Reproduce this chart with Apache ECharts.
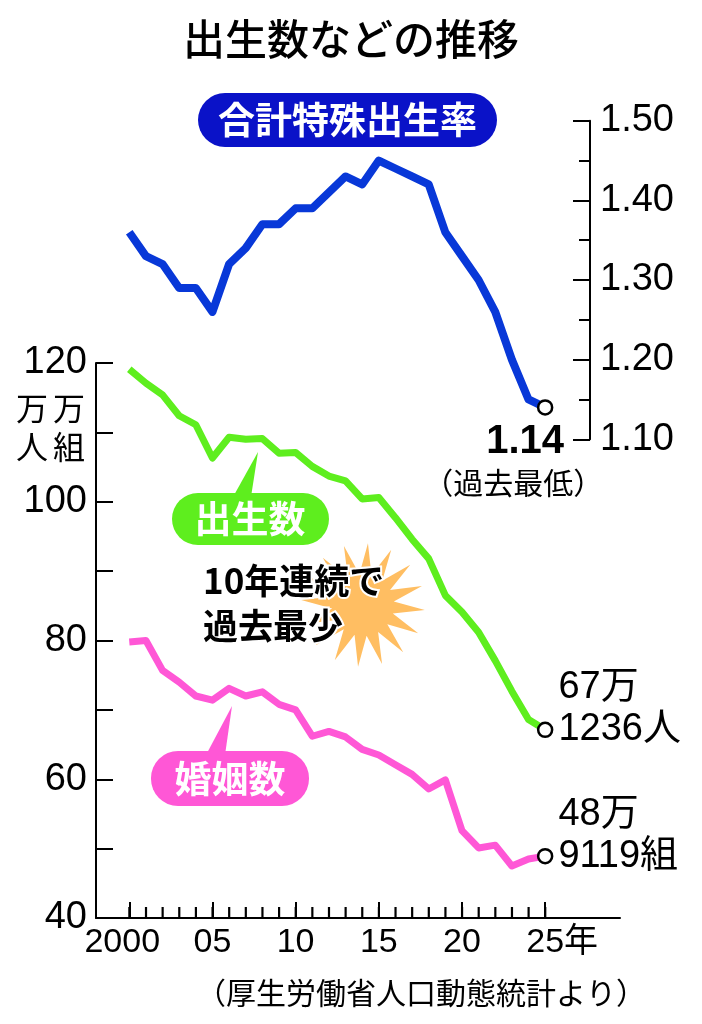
<!DOCTYPE html>
<html>
<head>
<meta charset="utf-8">
<script src="https://cdn.jsdelivr.net/npm/echarts@6/dist/echarts.min.js"></script>
<style>
html, body { margin: 0; padding: 0; background: #fff; }
#chart { width: 702px; height: 1024px; }
</style>
</head>
<body>
<div id="chart"></div>
<script>
// data (births / marriages in 万, TFR)
var years = [2000, 2001, 2002, 2003, 2004, 2005, 2006, 2007, 2008, 2009, 2010, 2011, 2012,
  2013, 2014, 2015, 2016, 2017, 2018, 2019, 2020, 2021, 2022, 2023, 2024, 2025];
var tfr = [1.36, 1.33, 1.32, 1.29, 1.29, 1.26, 1.32, 1.34, 1.37, 1.37, 1.39, 1.39, 1.41,
  1.43, 1.42, 1.45, 1.44, 1.43, 1.42, 1.36, 1.33, 1.30, 1.26, 1.20, 1.15, 1.14];
var births = [119.1, 117.1, 115.4, 112.4, 111.1, 106.3, 109.3, 109.0, 109.1, 107.0, 107.1, 105.1, 103.7,
  103.0, 100.4, 100.6, 97.7, 94.6, 91.8, 86.5, 84.1, 81.2, 77.1, 72.7, 68.6, 67.1236];
var marriages = [79.8, 80.0, 75.7, 74.0, 72.0, 71.4, 73.1, 72.0, 72.6, 70.8, 70.0, 66.2, 66.9,
  66.1, 64.3, 63.5, 62.1, 60.7, 58.6, 59.9, 52.6, 50.1, 50.5, 47.5, 48.5, 48.9119];
var xTickYears = [2000, 2005, 2010, 2015, 2020, 2025];
var xTickLabels = ['2000', '05', '10', '15', '20', '25年'];

var NUM = "'Liberation Sans', 'Noto Sans CJK JP', sans-serif";
var JP = "'Noto Sans CJK JP', sans-serif";

var BLUE = '#0838d8', GREEN = '#5eee1e', PINK = '#ff57d6';
var last = years.length - 1;

// x scale shared by both plots
var xMin = 1998, xMax = 2029.5;
var pxPerYear = 524 / (xMax - xMin);
var xMaxTop = xMin + 494 / pxPerYear;

function manLabel(unit) {
  return function (p) {
    var v = p.value[1];
    var man = Math.floor(v);
    var rest = Math.round((v - man) * 10000);
    return '{a|' + man + '万}\n{a|' + rest + unit + '}';
  };
}

function seriesData(vals, label) {
  return years.map(function (y, i) {
    if (i !== last) return [y, vals[i]];
    return { value: [y, vals[i]], symbol: 'circle', symbolSize: 14, label: label };
  });
}

var endStyle = { color: '#fff', borderColor: '#000', borderWidth: 2.5 };
var richBig = { a: { fontSize: 38, fontFamily: NUM, color: '#000', lineHeight: 42 } };

var chart = echarts.init(document.getElementById('chart'));

var star = [];
for (var i = 0; i < 32; i++) {
  var r = i % 2 ? 31 : 62;
  var a = -Math.PI / 2 + i * Math.PI / 16 + 0.08;
  star.push([363 + r * Math.cos(a), 605 + r * Math.sin(a)]);
}

var option = {
  animation: false,
  backgroundColor: '#fff',
  textStyle: { fontFamily: NUM },
  grid: [
    { left: 96, top: 363, width: 524, height: 555 },
    { left: 96, top: 120.7, width: 494, height: 318.6 }
  ],
  xAxis: [
    {
      type: 'value', gridIndex: 0, min: xMin, max: xMax,
      axisLine: { lineStyle: { color: '#000', width: 2 } },
      axisTick: { inside: true, length: 16, customValues: xTickYears, lineStyle: { color: '#000', width: 2 } },
      axisLabel: {
        customValues: xTickYears, margin: 8, fontSize: 34, color: '#000',
        formatter: function (v) {
          var s = xTickLabels[xTickYears.indexOf(v)];
          if (v === 2000) return '{f|' + s + '}';
          if (v === 2025) return '{e|' + s + '}';
          return s;
        },
        rich: {
          f: { fontSize: 34, fontFamily: NUM, color: '#000', padding: [0, 14, 0, 0] },
          e: { fontSize: 34, fontFamily: NUM, color: '#000', padding: [0, 0, 0, 34] }
        }
      },
      splitLine: { show: false }
    },
    {
      type: 'value', gridIndex: 1, min: xMin, max: xMaxTop, show: false
    }
  ],
  yAxis: [
    {
      type: 'value', gridIndex: 0, min: 40, max: 120, interval: 10,
      axisLine: { show: true, lineStyle: { color: '#000', width: 2 } },
      axisTick: { show: true, inside: true, length: 17, lineStyle: { color: '#000', width: 2 } },
      axisLabel: {
        margin: 9, fontSize: 38, color: '#000', fontFamily: NUM,
        formatter: function (v) { return v % 20 === 0 ? String(v) : ''; }
      },
      splitLine: { show: false }
    },
    {
      type: 'value', gridIndex: 1, position: 'right', min: 1.1, max: 1.5, interval: 0.1,
      axisLine: { show: true, lineStyle: { color: '#000', width: 2 } },
      axisTick: { show: true, inside: true, length: 17, lineStyle: { color: '#000', width: 2 } },
      minorTick: { show: true, splitNumber: 2, length: 11, lineStyle: { color: '#000', width: 2 } },
      axisLabel: {
        margin: 10, fontSize: 38, color: '#000', fontFamily: NUM,
        formatter: function (v) { return v.toFixed(2); }
      },
      splitLine: { show: false }
    }
  ],
  series: [
    {
      // yearly ticks on the x axis
      type: 'custom', xAxisIndex: 0, yAxisIndex: 0, clip: false, z: 5,
      data: years.map(function (y) { return [y, 40]; }),
      encode: { x: 0, y: 1 },
      renderItem: function (params, api) {
        var p = api.coord([api.value(0), api.value(1)]);
        return {
          type: 'rect',
          shape: { x: p[0] - 1, y: p[1] - 11, width: 2.2, height: 11 },
          style: { fill: '#000' }
        };
      }
    },
    {
      type: 'line', xAxisIndex: 1, yAxisIndex: 1, symbol: 'none', showSymbol: true, z: 3,
      lineStyle: { color: BLUE, width: 8, join: 'round' },
      itemStyle: endStyle,
      data: seriesData(tfr, {
        show: true, position: 'bottom', distance: 4, offset: [-32, 0],
        formatter: function (p) { return '{a|' + p.value[1].toFixed(2) + '}\n{b|（過去最低）}'; },
        rich: {
          a: { fontSize: 40, fontWeight: 'bold', fontFamily: NUM, color: '#000', lineHeight: 44, padding: [0, 0, 0, 24] },
          b: { fontSize: 30, fontFamily: JP, color: '#000', lineHeight: 38 }
        }
      })
    },
    {
      type: 'line', xAxisIndex: 0, yAxisIndex: 0, symbol: 'none', showSymbol: true, z: 3,
      lineStyle: { color: GREEN, width: 7, join: 'round' },
      itemStyle: endStyle,
      data: seriesData(births, {
        show: true, position: 'right', distance: 5, offset: [0, -21],
        formatter: manLabel('人'), rich: richBig
      })
    },
    {
      type: 'line', xAxisIndex: 0, yAxisIndex: 0, symbol: 'none', showSymbol: true, z: 3,
      lineStyle: { color: PINK, width: 7, join: 'round' },
      itemStyle: endStyle,
      data: seriesData(marriages, {
        show: true, position: 'right', distance: 5, offset: [0, -21],
        formatter: manLabel('組'), rich: richBig
      })
    }
  ],
  graphic: [
    { type: 'text', left: 'center', top: 18, style: { text: '出生数などの推移', font: '500 42px ' + JP, fill: '#000' } },
    // unit
    { type: 'text', x: 16, y: 388, style: { text: '万\n人', font: '32px ' + JP, lineHeight: 39, fill: '#000' } },
    { type: 'text', x: 53, y: 388, style: { text: '万\n組', font: '32px ' + JP, lineHeight: 39, fill: '#000' } },
    // TFR badge
    { type: 'rect', shape: { x: 198, y: 93, width: 299, height: 54, r: 27 }, style: { fill: '#0a12c8' }, z: 10 },
    { type: 'text', x: 347.5, y: 120, z: 11, style: { text: '合計特殊出生率', font: 'bold 37px ' + JP, fill: '#fff', align: 'center', verticalAlign: 'middle' } },
    // births badge
    { type: 'polygon', shape: { points: [[233, 497], [251, 497], [258, 452]] }, style: { fill: GREEN }, z: 10 },
    { type: 'rect', shape: { x: 172, y: 493, width: 157, height: 52, r: 26 }, style: { fill: GREEN }, z: 10 },
    { type: 'text', x: 250, y: 519, z: 11, style: { text: '出生数', font: 'bold 37px ' + JP, fill: '#fff', align: 'center', verticalAlign: 'middle' } },
    // marriages badge
    { type: 'polygon', shape: { points: [[206, 755], [225, 755], [232, 706]] }, style: { fill: PINK }, z: 10 },
    { type: 'rect', shape: { x: 151, y: 751, width: 158, height: 55, r: 27 }, style: { fill: PINK }, z: 10 },
    { type: 'text', x: 230, y: 779, z: 11, style: { text: '婚姻数', font: 'bold 37px ' + JP, fill: '#fff', align: 'center', verticalAlign: 'middle' } },
    // starburst + note
    { type: 'polygon', shape: { points: star }, style: { fill: '#ffbe62' }, z: 1 },
    { type: 'text', x: 203, y: 558, z: 12, style: { text: '10年連続で\n過去最少', font: 'bold 35px ' + JP, lineHeight: 45, fill: '#000', stroke: '#fff', lineWidth: 4 } },
    // source
    { type: 'text', x: 421, y: 993, style: { text: '（厚生労働省人口動態統計より）', font: '30px ' + JP, fill: '#000', align: 'center', verticalAlign: 'middle' } }
  ]
};

chart.setOption(option);

window.onresize = function () { chart.resize(); };
</script>
</body>
</html>
